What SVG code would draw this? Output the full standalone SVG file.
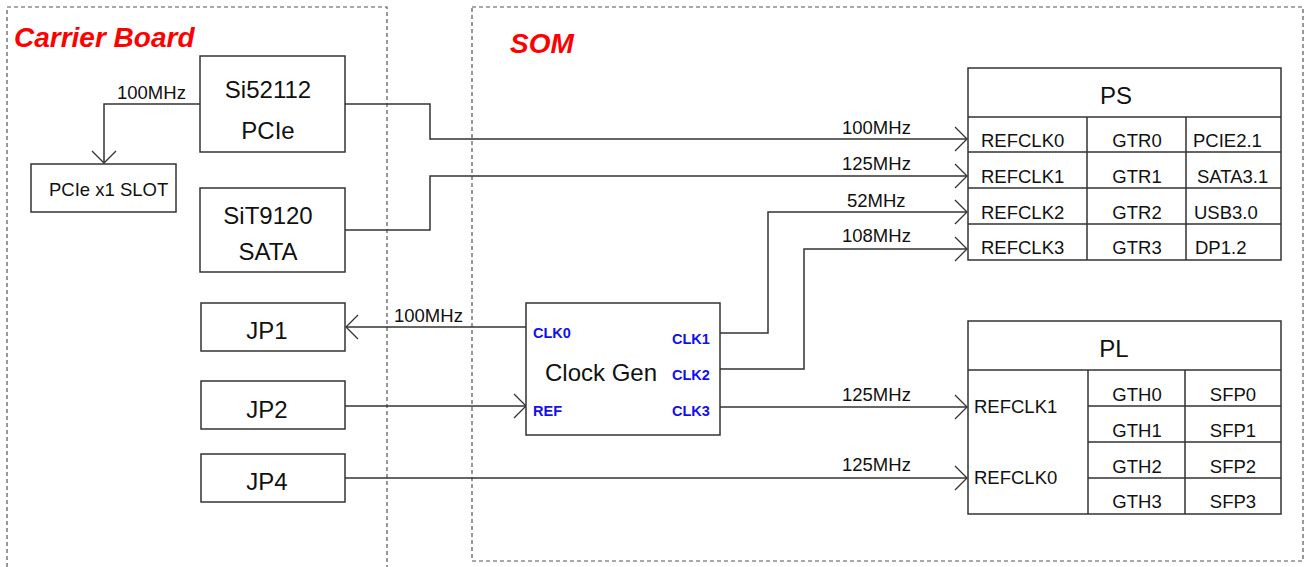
<svg xmlns="http://www.w3.org/2000/svg" width="1309" height="567" viewBox="0 0 1309 567">
<style>
.box{fill:#fff;stroke:#333;stroke-width:1.5}
.ln{fill:none;stroke:#333;stroke-width:1.5}
.dash{fill:none;stroke:#555;stroke-width:1.2;stroke-dasharray:4 3}
.big{font-family:"Liberation Sans",Arial,sans-serif;font-size:24px;fill:#111}
.sm{font-family:"Liberation Sans",Arial,sans-serif;font-size:18.5px;fill:#111}
.lbl{font-family:"Liberation Sans",Arial,sans-serif;font-size:18.5px;fill:#111}
.pin{font-family:"Liberation Sans",Arial,sans-serif;font-size:14.5px;font-weight:bold;fill:#1010ee}
.title{font-family:"Liberation Sans",Arial,sans-serif;font-size:28px;font-weight:bold;font-style:italic;fill:#ff0000}
.c{text-anchor:middle}
</style>
<defs>
<marker id="arr" markerWidth="14" markerHeight="26" refX="13" refY="13" orient="auto" markerUnits="userSpaceOnUse" viewBox="0 0 14 26">
<path d="M1,1 L13,13 L1,25" fill="none" stroke="#333" stroke-width="1.3"/>
</marker>
</defs>
<rect width="1309" height="567" fill="#fff"/>

<g id="carrier-board">
<path class="dash" d="M7,567 V7 H387 V567"/>
<text class="title" x="14" y="47">Carrier Board</text>
</g>
<g id="som">
<rect class="dash" x="472" y="7" width="831" height="554"/>
<text class="title" x="510" y="53">SOM</text>
</g>

<g id="connectors">
<path class="ln" d="M200,104 H104 V163" marker-end="url(#arr)"/>
<text class="lbl" x="117" y="99">100MHz</text>
<path class="ln" d="M345,104 H430 V139 H967" marker-end="url(#arr)"/>
<text class="lbl" x="842" y="134">100MHz</text>
<path class="ln" d="M345,230 H430 V176 H967" marker-end="url(#arr)"/>
<text class="lbl" x="842" y="170">125MHz</text>
<path class="ln" d="M719,333 H768 V212 H967" marker-end="url(#arr)"/>
<text class="lbl" x="847" y="207">52MHz</text>
<path class="ln" d="M719,369 H804 V249 H967" marker-end="url(#arr)"/>
<text class="lbl" x="842" y="242">108MHz</text>
<path class="ln" d="M526,327 H346" marker-end="url(#arr)"/>
<text class="lbl" x="394" y="322">100MHz</text>
<path class="ln" d="M345,406 H526" marker-end="url(#arr)"/>
<path class="ln" d="M719,407 H967" marker-end="url(#arr)"/>
<text class="lbl" x="842" y="401">125MHz</text>
<path class="ln" d="M345,478 H967" marker-end="url(#arr)"/>
<text class="lbl" x="842" y="471">125MHz</text>
</g>

<g id="si52112">
<rect class="box" x="200" y="56" width="145" height="96"/>
<text class="big c" x="268" y="98">Si52112</text>
<text class="big c" x="268" y="139">PCIe</text>
</g>
<g id="pcie-slot">
<rect class="box" x="31" y="164" width="145" height="48"/>
<text class="sm" x="49" y="196">PCIe x1 SLOT</text>
</g>
<g id="sit9120">
<rect class="box" x="200" y="188" width="145" height="84"/>
<text class="big c" x="268" y="224">SiT9120</text>
<text class="big c" x="268" y="260">SATA</text>
</g>
<g id="jp1">
<rect class="box" x="201" y="303" width="144" height="48"/>
<text class="big c" x="267" y="339">JP1</text>
</g>
<g id="jp2">
<rect class="box" x="201" y="381" width="144" height="48"/>
<text class="big c" x="267" y="418">JP2</text>
</g>
<g id="jp4">
<rect class="box" x="201" y="454" width="144" height="48"/>
<text class="big c" x="267" y="490">JP4</text>
</g>

<g id="clock-gen">
<rect class="box" x="526" y="303" width="194" height="132"/>
<text class="big" x="545" y="381">Clock Gen</text>
<text class="pin" x="533" y="338">CLK0</text>
<text class="pin" x="533" y="416">REF</text>
<text class="pin" x="672" y="344">CLK1</text>
<text class="pin" x="672" y="380">CLK2</text>
<text class="pin" x="672" y="416">CLK3</text>
</g>

<g id="ps">
<rect class="box" x="968" y="68" width="313" height="192"/>
<path class="ln" d="M968,117 H1281 M968,152 H1281 M968,188 H1281 M968,224 H1281 M1087,117 V260 M1186,117 V260"/>
<text class="big c" x="1116" y="104">PS</text>
<text class="sm" x="981" y="147">REFCLK0</text>
<text class="sm" x="981" y="183">REFCLK1</text>
<text class="sm" x="981" y="219">REFCLK2</text>
<text class="sm" x="981" y="254">REFCLK3</text>
<text class="sm c" x="1137" y="147">GTR0</text>
<text class="sm c" x="1137" y="183">GTR1</text>
<text class="sm c" x="1137" y="219">GTR2</text>
<text class="sm c" x="1137" y="254">GTR3</text>
<text class="sm" x="1193" y="147">PCIE2.1</text>
<text class="sm" x="1197" y="183">SATA3.1</text>
<text class="sm" x="1194" y="219">USB3.0</text>
<text class="sm" x="1195" y="254">DP1.2</text>
</g>

<g id="pl">
<rect class="box" x="968" y="321" width="313" height="193"/>
<path class="ln" d="M968,370 H1281 M1088,406 H1281 M1088,442 H1281 M1088,478 H1281 M1088,370 V514 M1185,370 V514"/>
<text class="big c" x="1114" y="357">PL</text>
<text class="sm" x="974" y="413">REFCLK1</text>
<text class="sm" x="974" y="484">REFCLK0</text>
<text class="sm c" x="1137" y="401">GTH0</text>
<text class="sm c" x="1137" y="437">GTH1</text>
<text class="sm c" x="1137" y="473">GTH2</text>
<text class="sm c" x="1137" y="508">GTH3</text>
<text class="sm c" x="1233" y="401">SFP0</text>
<text class="sm c" x="1233" y="437">SFP1</text>
<text class="sm c" x="1233" y="473">SFP2</text>
<text class="sm c" x="1233" y="508">SFP3</text>
</g>
</svg>
